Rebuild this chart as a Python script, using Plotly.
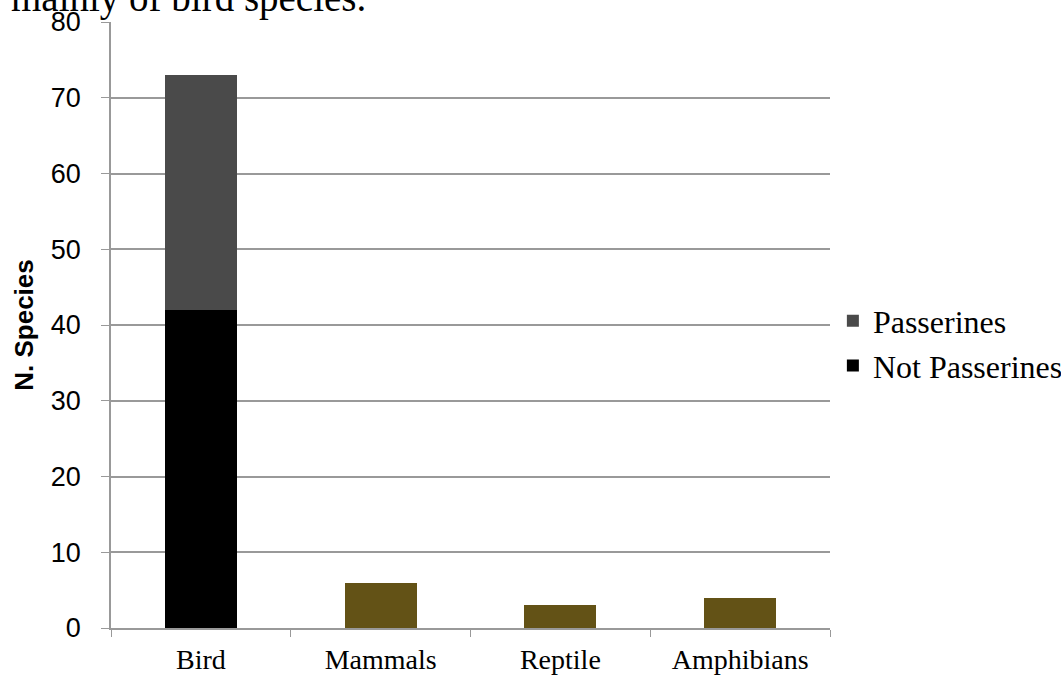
import plotly.graph_objects as go

categories = ["Bird", "Mammals", "Reptile", "Amphibians"]
not_passerines = [42, None, None, None]
passerines = [31, None, None, None]
other_taxa = [None, 6, 3, 4]
y_ticks = [0, 10, 20, 30, 40, 50, 60, 70, 80]

fig = go.Figure()
fig.add_trace(go.Bar(x=categories, y=not_passerines, name="Not Passerines",
                     marker=dict(color="#000000", line=dict(width=0))))
fig.add_trace(go.Bar(x=categories, y=passerines, name="Passerines",
                     marker=dict(color="#4a4a4a", line=dict(width=0))))
fig.add_trace(go.Bar(x=categories, y=other_taxa, name="Other", showlegend=False,
                     marker=dict(color="#635216", line=dict(width=0))))

serif = "Liberation Serif"
fig.update_layout(
    width=1061, height=684,
    barmode="stack", bargap=0.6,
    paper_bgcolor="white", plot_bgcolor="white",
    margin=dict(l=111, r=231, t=22, b=56, autoexpand=False),
    legend=dict(traceorder="reversed", x=1.004, y=0.4695, xanchor="left", yanchor="middle",
                font=dict(family=serif, size=32, color="#000"),
                itemwidth=30, itemsizing="constant"),
    xaxis=dict(type="category", showline=True, linecolor="#999", linewidth=1.5,
               ticks="outside", tickson="boundaries", ticklen=7, tickcolor="#999",
               tickfont=dict(family=serif, size=28, color="#000"),
               ticklabelstandoff=6, automargin=False,
               showgrid=False, range=[-0.5, 3.5]),
    yaxis=dict(range=[0, 80], tickvals=y_ticks, showline=True, linecolor="#999", linewidth=1.5,
               ticks="outside", ticklen=8, tickcolor="#999",
               gridcolor="#999", gridwidth=1.5, zeroline=False,
               tickfont=dict(family="Liberation Sans", size=27, color="#000"),
               ticklabelstandoff=15, automargin=False,
               title=dict(text="<b>N. Species</b>",
                          font=dict(family="Liberation Sans", size=26, color="#000"),
                          standoff=10)),
    annotations=[dict(text="mainly of bird species.", xref="paper", yref="paper",
                      x=-0.1419, y=1.0, xanchor="left", yanchor="bottom", yshift=0,
                      showarrow=False, font=dict(family=serif, size=39, color="#000"))],
)
fig.write_html("out.html", config={"displayModeBar": False},
               post_script="document.body.style.margin='0';")
